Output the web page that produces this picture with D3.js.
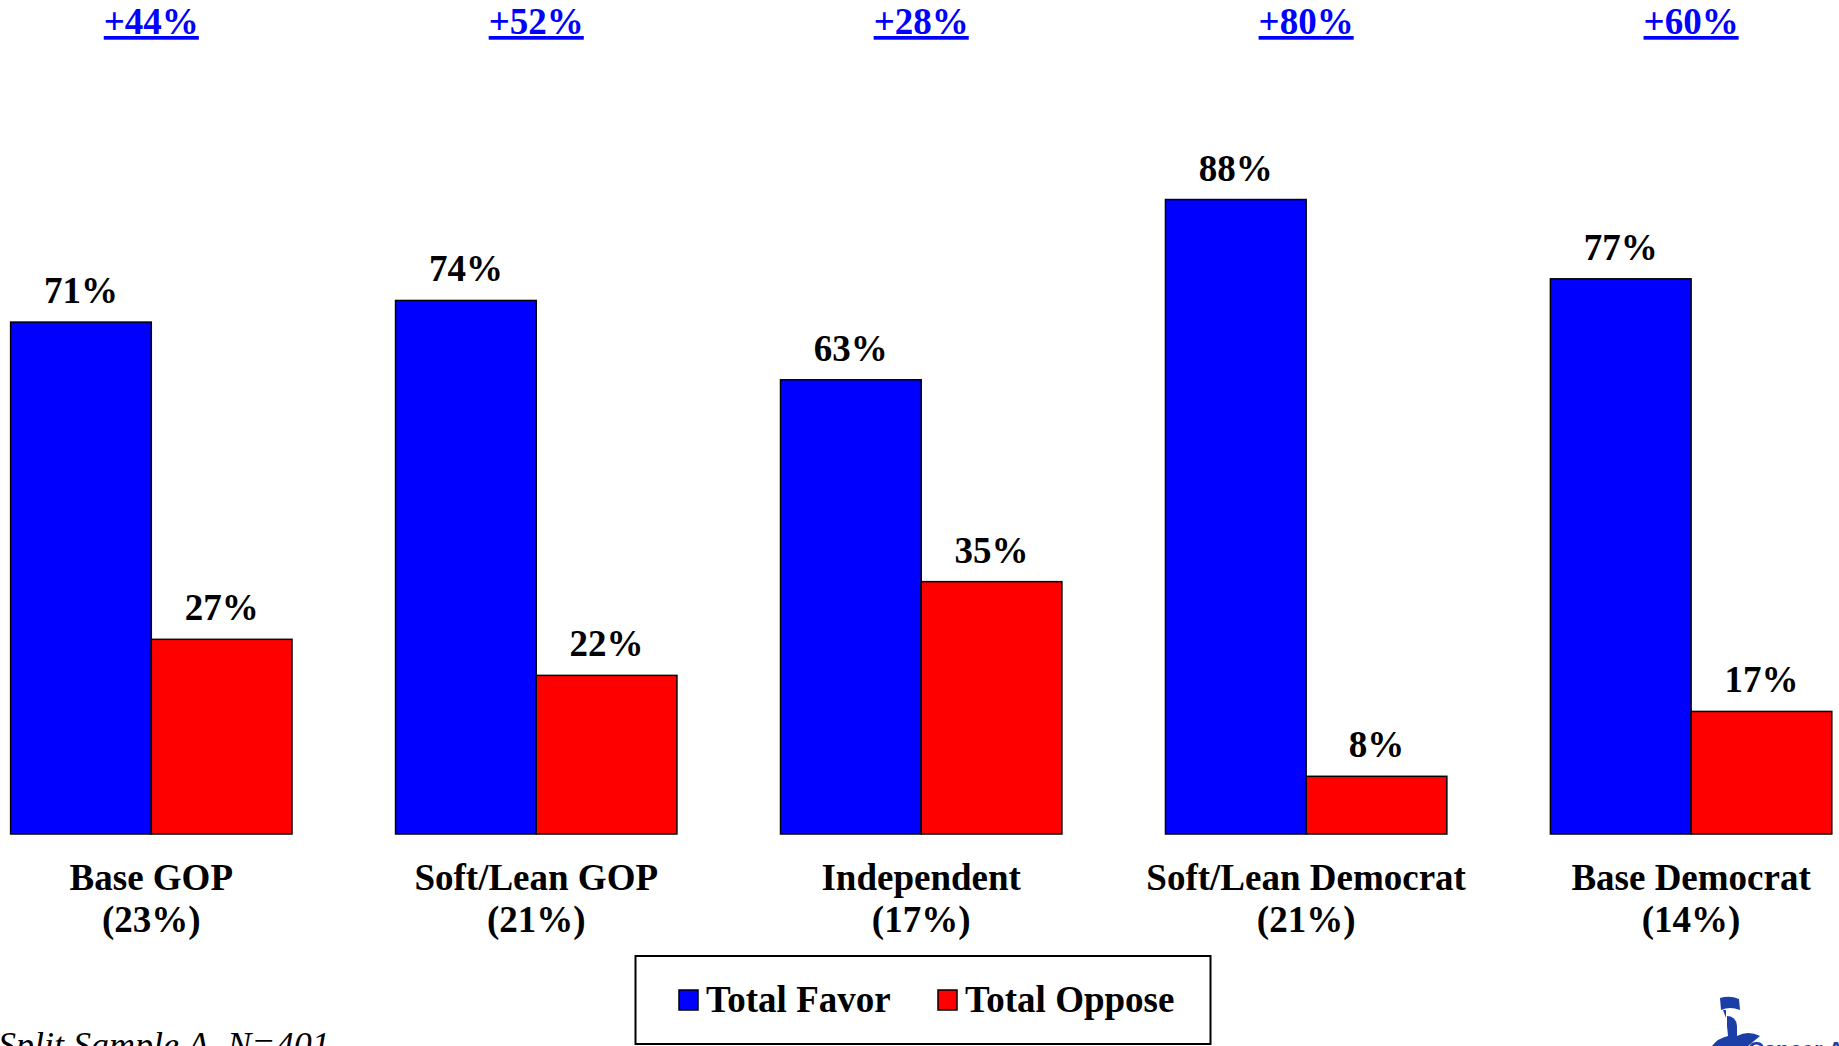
<!DOCTYPE html>
<html>
<head>
<meta charset="utf-8">
<script src="https://cdn.jsdelivr.net/npm/d3@7"></script>
<style>
  body { margin: 0; background: #fff; overflow: hidden; }
  svg { display: block; font-family: "Liberation Serif", "Times New Roman", serif; }
</style>
</head>
<body>
<svg width="1839" height="1046"></svg>
<script>
// data
const groups = ["Base GOP", "Soft/Lean GOP", "Independent", "Soft/Lean Democrat", "Base Democrat"];
const groupShares = ["(23%)", "(21%)", "(17%)", "(21%)", "(14%)"];
const series = ["Total Favor", "Total Oppose"];
const favor = [71, 74, 63, 88, 77];
const oppose = [27, 22, 35, 8, 17];
const colors = ["#0000ff", "#ff0000"];

const rows = groups.map((g, i) => ({ group: g, share: groupShares[i], values: [favor[i], oppose[i]] }));

const svg = d3.select("svg");
const fs = 37;

const x0 = d3.scaleBand().domain(groups).range([10.6, 1831.8]).paddingInner(0.269).paddingOuter(0);
const x1 = d3.scaleBand().domain(series).range([0, x0.bandwidth()]).padding(0);
const y = d3.scaleLinear().domain([0, 100]).range([834, 113]);

const g = svg.selectAll(".group")
  .data(rows)
  .enter()
  .append("g")
  .attr("class", "group")
  .attr("transform", d => `translate(${x0(d.group)},0)`);

g.selectAll("rect")
  .data(d => d.values.map((v, i) => ({ key: series[i], value: v, idx: i })))
  .enter()
  .append("rect")
  .attr("x", d => x1(d.key))
  .attr("y", d => y(d.value))
  .attr("width", x1.bandwidth())
  .attr("height", d => y(0) - y(d.value))
  .attr("fill", d => colors[d.idx])
  .attr("stroke", "#000")
  .attr("stroke-width", 1.5);

// value labels
g.selectAll(".val")
  .data(d => d.values.map((v, i) => ({ key: series[i], value: v })))
  .enter()
  .append("text")
  .attr("class", "val")
  .attr("x", d => x1(d.key) + x1.bandwidth() / 2)
  .attr("y", d => y(d.value) - 19)
  .attr("text-anchor", "middle")
  .attr("font-size", fs)
  .attr("font-weight", "bold")
  .text(d => d.value + "%");

// category labels
g.append("text")
  .attr("x", x0.bandwidth() / 2)
  .attr("y", 890)
  .attr("text-anchor", "middle")
  .attr("font-size", fs)
  .attr("font-weight", "bold")
  .text(d => d.group);

g.append("text")
  .attr("x", x0.bandwidth() / 2)
  .attr("y", 932)
  .attr("text-anchor", "middle")
  .attr("font-size", fs)
  .attr("font-weight", "bold")
  .text(d => d.share);

// net difference at top
g.append("text")
  .attr("x", x0.bandwidth() / 2)
  .attr("y", 34)
  .attr("text-anchor", "middle")
  .attr("font-size", fs)
  .attr("font-weight", "bold")
  .attr("fill", "#0000ff")
  .attr("text-decoration", "underline")
  .text(d => "+" + (d.values[0] - d.values[1]) + "%");

// legend
const legend = svg.append("g");
legend.append("rect")
  .attr("x", 635.5).attr("y", 956)
  .attr("width", 575).attr("height", 88)
  .attr("fill", "#fff").attr("stroke", "#000").attr("stroke-width", 2);

const legendX = [679, 938];
series.forEach((s, i) => {
  legend.append("rect")
    .attr("x", legendX[i]).attr("y", 990)
    .attr("width", 19).attr("height", 20)
    .attr("fill", colors[i]).attr("stroke", "#000").attr("stroke-width", 1.5);
  legend.append("text")
    .attr("x", legendX[i] + 27).attr("y", 1012)
    .attr("font-size", fs).attr("font-weight", "bold")
    .text(s);
});

// footnote
svg.append("text")
  .attr("x", -2).attr("y", 1057)
  .attr("font-size", 36).attr("font-style", "italic")
  .text("Split Sample A, N=401");

// logo (approximate)
const logo = svg.append("g").attr("fill", "#1b3fa6");
logo.append("path").attr("d", "M1720,998 L1721,1010 Q1730,1006 1740,1010 L1739,999 Q1730,995 1720,998 Z");
logo.append("path").attr("d", "M1723,1010 L1726,1010 L1726,1018 Z");
logo.append("path").attr("d", "M1727,1016 Q1736,1016 1737,1026 L1737,1036 Q1748,1030 1760,1036 L1748,1046 L1712,1046 Q1718,1038 1728,1036 L1727,1026 Z");
svg.append("text")
  .attr("x", 1748).attr("y", 1057)
  .attr("font-family", "Liberation Sans, Arial, sans-serif")
  .attr("font-size", 22).attr("font-weight", "bold")
  .attr("fill", "#1b3fa6")
  .text("Cancer Action");
</script>
</body>
</html>
